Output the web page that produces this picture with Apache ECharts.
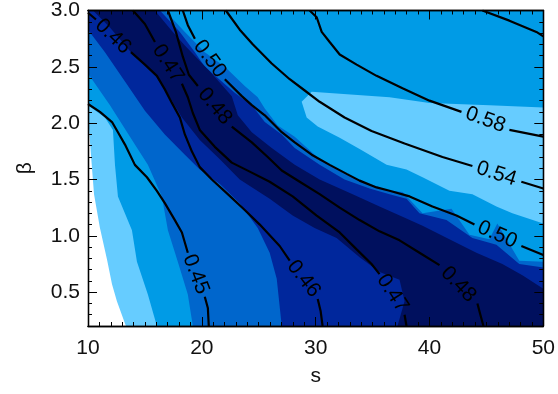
<!DOCTYPE html>
<html>
<head>
<meta charset="utf-8">
<script src="https://cdn.jsdelivr.net/npm/echarts@6/dist/echarts.min.js"></script>
<style>html,body{margin:0;padding:0;background:#fff;}#c{width:558px;height:394px;}</style>
</head>
<body>
<div id="c"></div>
<script>
// ---- axis ranges and ticks ----
const sRange = [10, 50];
const betaRange = [0.2, 3.0];
const xMajorTicks = [10, 20, 30, 40, 50];
const xMinorTicks = [11,12,13,14,15,16,17,18,19,21,22,23,24,25,26,27,28,29,31,32,33,34,35,36,37,38,39,41,42,43,44,45,46,47,48,49];
const yMajorTicks = [0.5, 1.0, 1.5, 2.0, 2.5, 3.0];
const yMinorTicks = [0.3,0.4,0.6,0.7,0.8,0.9,1.1,1.2,1.3,1.4,1.6,1.7,1.8,1.9,2.1,2.2,2.3,2.4,2.6,2.7,2.8,2.9];

// ---- filled contour regions, [s, beta] vertices (painted in order) ----
const fillBase = [[10,0.2],[50,0.2],[50,3.0],[10,3.0]];
const fillLightLeft = [[10,2.16],[11.49,2.05],[12.19,1.94],[12.37,1.63],[12.63,1.35],[13.86,1.05],[14.30,0.77],[15.26,0.48],[16.05,0.2],[10,0.2]];
const fillWhite = [[10,2.07],[10.26,1.72],[10.53,1.37],[11.05,1.07],[11.67,0.79],[12.11,0.57],[12.54,0.42],[13.33,0.2],[10,0.2]];
const fillLightRight = [[28.77,2.19],[29.65,2.28],[36.49,2.23],[40.0,2.18],[45.26,2.16],[50,2.14],[50,1.11],[47.28,1.20],[45.88,1.26],[43.77,1.37],[41.75,1.40],[39.39,1.52],[37.98,1.59],[36.23,1.63],[33.86,1.77],[32.11,1.87],[30.18,1.97],[29.21,2.05]];
const fillMid = [[10,3.0],[16.75,3.0],[18.51,2.81],[20.26,2.63],[22.02,2.50],[23.77,2.33],[24.91,2.23],[25.53,2.13],[26.67,1.98],[28.16,1.88],[30.35,1.68],[32.54,1.55],[34.74,1.46],[36.49,1.40],[37.63,1.39],[39.39,1.20],[41.93,1.24],[43.51,1.01],[45.26,0.97],[45.96,1.11],[47.89,0.78],[50,0.77],[50,0.2],[19.21,0.2],[18.77,0.48],[17.89,0.77],[17.02,1.05],[16.49,1.35],[15.26,1.63],[14.12,1.81],[11.93,2.16],[10,2.44]];
const fillDark = [[10,3.0],[16.32,3.0],[18.07,2.81],[19.39,2.63],[20.26,2.50],[22.89,2.27],[24.39,2.16],[25.53,2.01],[27.02,1.90],[28.16,1.78],[30.35,1.63],[32.54,1.50],[34.74,1.42],[36.49,1.37],[37.98,1.33],[39.12,1.20],[41.49,1.14],[43.77,0.98],[45.88,0.92],[47.89,0.75],[50,0.72],[50,0.2],[27.02,0.2],[26.58,0.62],[25.96,0.85],[24.91,1.07],[23.33,1.29],[21.58,1.46],[19.82,1.59],[18.51,1.72],[16.75,1.90],[15.0,2.11],[13.25,2.37],[11.49,2.63],[10,2.83]];
const fillDarkest = [[10.44,3.0],[15.88,3.0],[17.28,2.83],[18.51,2.69],[19.65,2.57],[20.70,2.46],[22.63,2.24],[23.16,2.07],[24.39,1.92],[26.14,1.78],[28.16,1.63],[30.35,1.50],[33.25,1.37],[35.61,1.26],[37.63,1.17],[39.39,1.09],[41.75,0.97],[44.12,0.85],[46.40,0.75],[48.16,0.65],[50,0.53],[50,0.2],[37.19,0.2],[37.81,0.42],[37.37,0.61],[35.61,0.68],[33.86,0.81],[31.84,0.98],[29.91,1.07],[27.98,1.18],[25.96,1.33],[23.33,1.50],[21.58,1.68],[19.82,1.85],[18.25,2.05],[17.19,2.23],[15.88,2.43],[13.77,2.63],[11.93,2.85]];

const fillLayers = [fillBase, fillLightLeft, fillWhite, fillLightRight, fillMid, fillDark, fillDarkest];
const fillColors = ['#009be6', '#66ccff', '#ffffff', '#66ccff', '#0066cc', '#00279c', '#00105e'];

// ---- contour lines (segments broken at labels), [s, beta] ----
const line045 = [
  [[10,2.17],[11.05,2.10],[12.11,2.01],[12.63,1.92],[13.25,1.81],[14.12,1.63],[15.18,1.52],[16.05,1.40],[16.75,1.29],[17.63,1.14],[18.25,1.03],[18.77,0.85]],
  [[20.26,0.46],[20.53,0.36],[20.61,0.2]]
];
const line046 = [
  [[10,2.98],[10.70,2.92]],
  [[13.77,2.63],[15.0,2.52],[16.05,2.42],[16.75,2.30],[17.37,2.18],[18.07,2.05],[18.51,1.90],[19.12,1.75],[19.82,1.61],[20.88,1.50],[22.28,1.37],[23.77,1.23],[25.09,1.10],[26.84,0.91],[27.72,0.78]],
  [[30.18,0.44],[30.44,0.33],[30.61,0.2]]
];
const line047 = [
  [[13.95,3.0],[15.0,2.88],[15.88,2.72]],
  [[18.25,2.35],[18.77,2.23],[19.21,2.09],[19.82,1.94],[21.14,1.79],[22.63,1.65],[24.21,1.57],[25.96,1.48],[27.98,1.35],[30.09,1.18],[32.11,1.03],[33.60,0.88],[34.91,0.75],[35.61,0.66]],
  [[37.81,0.30],[37.98,0.2]]
];
const line048 = [
  [[17.02,3.0],[17.72,2.81],[18.33,2.59],[18.86,2.43],[19.65,2.33]],
  [[22.63,1.97],[24.39,1.83],[25.79,1.70],[27.02,1.58],[28.60,1.48],[30.35,1.37],[32.11,1.25],[33.86,1.14],[35.61,1.04],[37.37,0.96],[39.12,0.85],[40.88,0.74]],
  [[44.21,0.40],[44.47,0.30],[44.74,0.2]]
];
const line050 = [
  [[18.33,3.0],[18.77,2.87],[19.39,2.75]],
  [[22.02,2.39],[23.51,2.24],[24.39,2.16],[25.53,2.07],[27.02,1.92],[28.16,1.83],[29.65,1.72],[31.23,1.63],[32.72,1.55],[33.86,1.49],[35.35,1.43],[36.49,1.40],[38.25,1.35],[40.26,1.26],[42.37,1.18],[43.95,1.10]],
  [[48.07,0.91],[50,0.83]]
];
const line054 = [
  [[22.11,3.0],[23.33,2.83],[24.47,2.70],[26.14,2.53],[27.72,2.39],[29.04,2.29],[30.35,2.19],[32.54,2.05],[34.91,1.93],[37.81,1.82],[41.14,1.70],[43.77,1.62]],
  [[48.07,1.48],[50,1.42]]
];
const line058 = [
  [[29.47,3.0],[30.09,2.94],[30.53,2.81],[31.23,2.72],[32.11,2.61],[33.60,2.52],[35.35,2.42],[37.63,2.31],[40.0,2.20],[42.81,2.10]],
  [[47.02,1.94],[50,1.88]]
];
const line062 = [
  [[44.65,3.0],[47.02,2.91],[49.39,2.81],[50,2.77]]
];
const contourLines = [line045, line046, line047, line048, line050, line054, line058, line062];

// ---- contour labels ----
const labelText = ['0.45', '0.46', '0.46', '0.47', '0.47', '0.48', '0.48', '0.50', '0.50', '0.54', '0.58'];
const labelPos = [[19.47,0.66],[12.19,2.77],[28.95,0.62],[17.02,2.53],[36.75,0.49],[21.14,2.15],[42.54,0.57],[20.70,2.57],[45.96,1.01],[45.88,1.55],[44.91,2.03]];
const labelAngle = [69, 44, 52, 57, 57, 50, 46, 54, 24, 18, 20];

const FONT = '"Liberation Sans", Arial, Helvetica, sans-serif';

const series = [];
fillLayers.forEach((poly, k) => {
  series.push({
    type: 'custom', xAxisIndex: 0, yAxisIndex: 0, silent: true, animation: false, z: 1,
    data: poly,
    renderItem: function (params, api) {
      if (params.dataIndex !== 0) return null;
      return { type: 'polygon', shape: { points: poly.map(p => api.coord(p)) },
               style: { fill: fillColors[k], stroke: null } };
    }
  });
});
contourLines.forEach(segs => {
  segs.forEach(seg => {
    series.push({
      type: 'line', xAxisIndex: 0, yAxisIndex: 0, data: seg, symbol: 'none', showSymbol: false,
      silent: true, animation: false, z: 3,
      lineStyle: { color: '#000', width: 2.2 }
    });
  });
});
series.push({
  type: 'custom', xAxisIndex: 0, yAxisIndex: 0, silent: true, animation: false, z: 4,
  data: labelPos,
  renderItem: function (params, api) {
    const i = params.dataIndex;
    const p = api.coord(labelPos[i]);
    return { type: 'text', x: p[0], y: p[1], rotation: -labelAngle[i] * Math.PI / 180,
             style: { text: labelText[i], font: '21px ' + FONT, fill: '#000', align: 'center', verticalAlign: 'middle' } };
  }
});

function xAx(pos, ticks, len, labels) {
  return {
    type: 'value', min: sRange[0], max: sRange[1], position: pos, z: 10,
    name: labels ? 's' : '', nameLocation: 'middle', nameGap: 40,
    nameTextStyle: { fontSize: 21, fontFamily: FONT, color: '#111' },
    axisLine: { show: true, onZero: false, lineStyle: { color: '#000', width: 1.3 } },
    axisTick: { show: true, inside: true, length: len, customValues: ticks, lineStyle: { color: '#000', width: 1 } },
    axisLabel: { show: labels, customValues: ticks, margin: 12, fontSize: 21, fontFamily: FONT, color: '#111' },
    splitLine: { show: false }
  };
}
function yAx(pos, ticks, len, labels) {
  return {
    type: 'value', min: betaRange[0], max: betaRange[1], position: pos, z: 10,
    name: labels ? 'β' : '', nameLocation: 'middle', nameGap: 52, nameRotate: 90,
    nameTextStyle: { fontSize: 21, fontFamily: FONT, color: '#111' },
    axisLine: { show: true, onZero: false, lineStyle: { color: '#000', width: 1.3 } },
    axisTick: { show: true, inside: true, length: len, customValues: ticks, lineStyle: { color: '#000', width: 1 } },
    axisLabel: { show: labels, customValues: ticks, margin: 8, fontSize: 21, fontFamily: FONT, color: '#111',
                 formatter: v => Number(v).toFixed(1) },
    splitLine: { show: false }
  };
}

const chart = echarts.init(document.getElementById('c'), null, { renderer: 'canvas' });
chart.setOption({
  animation: false,
  backgroundColor: '#ffffff',
  grid: { left: 88, top: 3, right: 14, bottom: 68, containLabel: false },
  xAxis: [xAx('bottom', xMajorTicks, 9, true), xAx('bottom', xMinorTicks, 4, false),
          xAx('top', xMajorTicks, 9, false), xAx('top', xMinorTicks, 4, false)],
  yAxis: [yAx('left', yMajorTicks, 9, true), yAx('left', yMinorTicks, 4, false),
          yAx('right', yMajorTicks, 9, false), yAx('right', yMinorTicks, 4, false)],
  series: series
});
</script>
</body>
</html>
